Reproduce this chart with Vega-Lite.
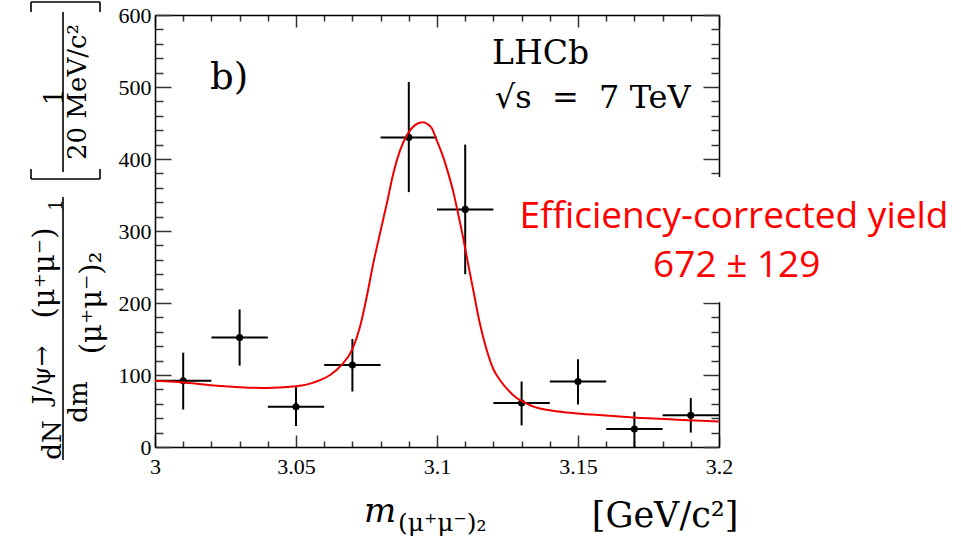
{
  "$schema": "https://vega.github.io/schema/vega-lite/v6.json",
  "width": 564,
  "height": 432,
  "autosize": {"type": "none"},
  "padding": {"left": 155, "top": 15, "right": 242, "bottom": 96},
  "background": "white",
  "config": {"view": {"stroke": null}},
  "datasets": {
    "pts": [
      {"m": 3.01, "mlo": 3.0, "mhi": 3.02, "n": 92, "lo": 52, "hi": 131},
      {"m": 3.03, "mlo": 3.02, "mhi": 3.04, "n": 152, "lo": 113, "hi": 191},
      {"m": 3.05, "mlo": 3.04, "mhi": 3.06, "n": 56, "lo": 29, "hi": 83},
      {"m": 3.07, "mlo": 3.06, "mhi": 3.08, "n": 114, "lo": 77, "hi": 150},
      {"m": 3.09, "mlo": 3.08, "mhi": 3.1, "n": 430, "lo": 354, "hi": 507},
      {"m": 3.11, "mlo": 3.1, "mhi": 3.12, "n": 330, "lo": 240, "hi": 420},
      {"m": 3.13, "mlo": 3.12, "mhi": 3.14, "n": 61, "lo": 30, "hi": 91},
      {"m": 3.15, "mlo": 3.14, "mhi": 3.16, "n": 91, "lo": 59, "hi": 122},
      {"m": 3.17, "mlo": 3.16, "mhi": 3.18, "n": 25, "lo": 0, "hi": 49},
      {"m": 3.19, "mlo": 3.18, "mhi": 3.2, "n": 44, "lo": 20, "hi": 68}
    ],
    "fit": [
      {"m": 3.0, "f": 92}, {"m": 3.005, "f": 91}, {"m": 3.011, "f": 89.4}, {"m": 3.022, "f": 85},
      {"m": 3.03, "f": 83}, {"m": 3.038, "f": 82}, {"m": 3.0467, "f": 83.5}, {"m": 3.052, "f": 85.5},
      {"m": 3.055, "f": 88}, {"m": 3.058, "f": 92}, {"m": 3.0621, "f": 100}, {"m": 3.0662, "f": 114},
      {"m": 3.07, "f": 136}, {"m": 3.0727, "f": 167}, {"m": 3.0751, "f": 209}, {"m": 3.0774, "f": 255},
      {"m": 3.0798, "f": 297}, {"m": 3.0822, "f": 338}, {"m": 3.0845, "f": 380}, {"m": 3.0869, "f": 412},
      {"m": 3.0898, "f": 436}, {"m": 3.0922, "f": 447}, {"m": 3.0949, "f": 451}, {"m": 3.0965, "f": 449},
      {"m": 3.0981, "f": 443}, {"m": 3.1, "f": 425}, {"m": 3.102, "f": 405}, {"m": 3.104, "f": 380},
      {"m": 3.1058, "f": 354}, {"m": 3.1076, "f": 322}, {"m": 3.1093, "f": 290}, {"m": 3.111, "f": 255},
      {"m": 3.113, "f": 215}, {"m": 3.115, "f": 175}, {"m": 3.1176, "f": 135}, {"m": 3.12, "f": 108},
      {"m": 3.1223, "f": 93}, {"m": 3.125, "f": 80}, {"m": 3.1283, "f": 68}, {"m": 3.131, "f": 62},
      {"m": 3.1342, "f": 56}, {"m": 3.14, "f": 51}, {"m": 3.146, "f": 48}, {"m": 3.155, "f": 45},
      {"m": 3.1696, "f": 41}, {"m": 3.185, "f": 38}, {"m": 3.2, "f": 35.5}
    ],
    "box": [{"x1": 3.125, "x2": 3.35, "y1": 201, "y2": 375}],
    "ann": [
      {"x": 3.2053, "y": 304, "t": "Efficiency-corrected yield"},
      {"x": 3.2063, "y": 236, "t": "672 ± 129"}
    ],
    "lblb": [{"x": 3.0195, "y": 497, "t": "b)"}],
    "lhcb": [{"x": 3.1195, "y": 532, "t": "LHCb"}],
    "sqrts": [{"x": 3.1205, "y": 471, "t": "√s\u00a0\u00a0=\u00a0\u00a07\u00a0TeV"}],
    "xtm": [{"x": 3.0798, "y": -104, "t": "m"}],
    "xtsub": [{"x": 3.0862, "y": -116, "t": "(μ⁺μ⁻)₂"}],
    "xtunit": [{"x": 3.1809, "y": -111, "t": "[GeV/c²]"}],
    "ytbig": [{"x": 2.96383, "y": 9.7, "t": "dN"}, {"x": 2.97305, "y": 62.5, "t": "dm"}],
    "ytsup": [{"x": 2.95993, "y": 100, "t": "J/ψ→"}],
    "ytpar": [{"x": 2.96099, "y": 241.7, "t": "(μ⁺μ⁻)"}, {"x": 2.97766, "y": 200, "t": "(μ⁺μ⁻)₂"}],
    "ytsub1": [{"x": 2.96525, "y": 336, "t": "1"}],
    "ytunit": [{"x": 2.96454, "y": 486, "t": "1"}, {"x": 2.9727, "y": 493, "t": "20 MeV/c²"}],
    "rl": [
      {"x": 2.96738, "x2": 2.96738, "y": 604.2, "y2": 381.9},
      {"x": 2.96738, "x2": 2.96738, "y": 347.2, "y2": -18.1},
      {"x": 2.95603, "x2": 2.9805, "y": 372.2, "y2": 372.2},
      {"x": 2.95603, "x2": 2.95603, "y": 372.2, "y2": 386},
      {"x": 2.9805, "x2": 2.9805, "y": 372.2, "y2": 386},
      {"x": 2.95603, "x2": 2.9805, "y": 618, "y2": 618},
      {"x": 2.95603, "x2": 2.95603, "y": 618, "y2": 604},
      {"x": 2.9805, "x2": 2.9805, "y": 618, "y2": 604}
    ]
  },
  "resolve": {"axis": {"x": "independent", "y": "independent"}},
  "layer": [
    {
      "data": {"name": "pts"},
      "mark": {"type": "rule", "color": "black", "strokeWidth": 2},
      "encoding": {
        "x": {"field": "mlo", "type": "quantitative", "scale": {"domain": [3, 3.2], "nice": false, "zero": false},
          "axis": {"orient": "bottom", "title": null, "grid": false, "zindex": 0,
            "values": [3, 3.01, 3.02, 3.03, 3.04, 3.05, 3.06, 3.07, 3.08, 3.09, 3.1, 3.11, 3.12, 3.13, 3.14, 3.15, 3.16, 3.17, 3.18, 3.19, 3.2],
            "tickSize": {"condition": {"test": "abs(datum.value*20-round(datum.value*20))<0.000001", "value": -12}, "value": -6},
            "labelExpr": "abs(datum.value*20-round(datum.value*20))<0.000001 ? toString(round(datum.value*100)/100) : ''",
            "labelFont": "Liberation Serif", "labelFontSize": 22, "labelColor": "black", "labelPadding": 21,
            "labelFlush": false, "labelOverlap": false,
            "domainColor": "black", "domainWidth": 1.5, "tickColor": "#333", "tickWidth": 1.5}},
        "x2": {"field": "mhi"},
        "y": {"field": "n", "type": "quantitative", "scale": {"domain": [0, 600], "nice": false, "zero": false},
          "axis": {"orient": "left", "title": null, "grid": false, "zindex": 0,
            "values": [0, 20, 40, 60, 80, 100, 120, 140, 160, 180, 200, 220, 240, 260, 280, 300, 320, 340, 360, 380, 400, 420, 440, 460, 480, 500, 520, 540, 560, 580, 600],
            "tickSize": {"condition": {"test": "datum.value % 100 == 0", "value": -16}, "value": -8},
            "labelExpr": "datum.value % 100 == 0 ? toString(datum.value) : ''",
            "labelFont": "Liberation Serif", "labelFontSize": 22, "labelColor": "black", "labelPadding": 20,
            "labelFlush": false, "labelOverlap": false,
            "domainColor": "black", "domainWidth": 1.5, "tickColor": "#333", "tickWidth": 1.5}}
      }
    },
    {
      "data": {"name": "pts"},
      "mark": {"type": "rule", "color": "black", "strokeWidth": 2},
      "encoding": {
        "x": {"field": "m", "type": "quantitative", "scale": {"domain": [3, 3.2], "nice": false, "zero": false},
          "axis": {"orient": "top", "title": null, "grid": false, "zindex": 0, "labels": false,
            "values": [3, 3.01, 3.02, 3.03, 3.04, 3.05, 3.06, 3.07, 3.08, 3.09, 3.1, 3.11, 3.12, 3.13, 3.14, 3.15, 3.16, 3.17, 3.18, 3.19, 3.2],
            "tickSize": {"condition": {"test": "abs(datum.value*20-round(datum.value*20))<0.000001", "value": -12}, "value": -6},
            "domainColor": "black", "domainWidth": 1.5, "tickColor": "#333", "tickWidth": 1.5}},
        "y": {"field": "lo", "type": "quantitative", "scale": {"domain": [0, 600], "nice": false, "zero": false},
          "axis": {"orient": "right", "title": null, "grid": false, "zindex": 0, "labels": false,
            "values": [0, 20, 40, 60, 80, 100, 120, 140, 160, 180, 200, 220, 240, 260, 280, 300, 320, 340, 360, 380, 400, 420, 440, 460, 480, 500, 520, 540, 560, 580, 600],
            "tickSize": {"condition": {"test": "datum.value % 100 == 0", "value": -16}, "value": -8},
            "domainColor": "black", "domainWidth": 1.5, "tickColor": "#333", "tickWidth": 1.5}},
        "y2": {"field": "hi"}
      }
    },
    {
      "data": {"name": "pts"},
      "mark": {"type": "circle", "color": "black", "opacity": 1, "size": 50},
      "encoding": {
        "x": {"field": "m", "type": "quantitative", "scale": {"domain": [3, 3.2], "nice": false, "zero": false}, "axis": null},
        "y": {"field": "n", "type": "quantitative", "scale": {"domain": [0, 600], "nice": false, "zero": false}, "axis": null}
      }
    },
    {
      "data": {"name": "fit"},
      "mark": {"type": "line", "color": "#ee0000", "strokeWidth": 2, "interpolate": "monotone"},
      "encoding": {
        "x": {"field": "m", "type": "quantitative", "scale": {"domain": [3, 3.2], "nice": false, "zero": false}, "axis": null},
        "y": {"field": "f", "type": "quantitative", "scale": {"domain": [0, 600], "nice": false, "zero": false}, "axis": null}
      }
    },
    {
      "data": {"name": "box"},
      "mark": {"type": "rect", "fill": "white", "stroke": null},
      "encoding": {
        "x": {"field": "x1", "type": "quantitative", "scale": {"domain": [3, 3.2], "nice": false, "zero": false}, "axis": null},
        "x2": {"field": "x2"},
        "y": {"field": "y1", "type": "quantitative", "scale": {"domain": [0, 600], "nice": false, "zero": false}, "axis": null},
        "y2": {"field": "y2"}
      }
    },
    {
      "data": {"name": "ann"},
      "mark": {"type": "text", "font": "Open Sans", "fontSize": 37, "color": "#ff0000", "align": "center", "baseline": "alphabetic"},
      "encoding": {
        "x": {"field": "x", "type": "quantitative", "scale": {"domain": [3, 3.2], "nice": false, "zero": false}, "axis": null},
        "y": {"field": "y", "type": "quantitative", "scale": {"domain": [0, 600], "nice": false, "zero": false}, "axis": null},
        "text": {"field": "t"}
      }
    },
    {
      "data": {"name": "lblb"},
      "mark": {"type": "text", "font": "DejaVu Serif", "fontSize": 37, "color": "black", "align": "left", "baseline": "alphabetic"},
      "encoding": {
        "x": {"field": "x", "type": "quantitative", "scale": {"domain": [3, 3.2], "nice": false, "zero": false}, "axis": null},
        "y": {"field": "y", "type": "quantitative", "scale": {"domain": [0, 600], "nice": false, "zero": false}, "axis": null},
        "text": {"field": "t"}
      }
    },
    {
      "data": {"name": "lhcb"},
      "mark": {"type": "text", "font": "DejaVu Serif", "fontSize": 33, "color": "black", "align": "left", "baseline": "alphabetic"},
      "encoding": {
        "x": {"field": "x", "type": "quantitative", "scale": {"domain": [3, 3.2], "nice": false, "zero": false}, "axis": null},
        "y": {"field": "y", "type": "quantitative", "scale": {"domain": [0, 600], "nice": false, "zero": false}, "axis": null},
        "text": {"field": "t"}
      }
    },
    {
      "data": {"name": "sqrts"},
      "mark": {"type": "text", "font": "DejaVu Serif", "fontSize": 32, "color": "black", "align": "left", "baseline": "alphabetic"},
      "encoding": {
        "x": {"field": "x", "type": "quantitative", "scale": {"domain": [3, 3.2], "nice": false, "zero": false}, "axis": null},
        "y": {"field": "y", "type": "quantitative", "scale": {"domain": [0, 600], "nice": false, "zero": false}, "axis": null},
        "text": {"field": "t"}
      }
    },
    {
      "data": {"name": "xtm"},
      "mark": {"type": "text", "font": "DejaVu Serif", "fontStyle": "italic", "fontSize": 34, "color": "black", "align": "center", "baseline": "alphabetic"},
      "encoding": {
        "x": {"field": "x", "type": "quantitative", "scale": {"domain": [3, 3.2], "nice": false, "zero": false}, "axis": null},
        "y": {"field": "y", "type": "quantitative", "scale": {"domain": [0, 600], "nice": false, "zero": false}, "axis": null},
        "text": {"field": "t"}
      }
    },
    {
      "data": {"name": "xtsub"},
      "mark": {"type": "text", "font": "DejaVu Serif", "fontSize": 25, "color": "black", "align": "left", "baseline": "alphabetic"},
      "encoding": {
        "x": {"field": "x", "type": "quantitative", "scale": {"domain": [3, 3.2], "nice": false, "zero": false}, "axis": null},
        "y": {"field": "y", "type": "quantitative", "scale": {"domain": [0, 600], "nice": false, "zero": false}, "axis": null},
        "text": {"field": "t"}
      }
    },
    {
      "data": {"name": "xtunit"},
      "mark": {"type": "text", "font": "DejaVu Serif", "fontSize": 35, "color": "black", "align": "center", "baseline": "alphabetic"},
      "encoding": {
        "x": {"field": "x", "type": "quantitative", "scale": {"domain": [3, 3.2], "nice": false, "zero": false}, "axis": null},
        "y": {"field": "y", "type": "quantitative", "scale": {"domain": [0, 600], "nice": false, "zero": false}, "axis": null},
        "text": {"field": "t"}
      }
    },
    {
      "data": {"name": "ytbig"},
      "mark": {"type": "text", "font": "DejaVu Serif", "fontSize": 26, "color": "black", "align": "center", "baseline": "middle", "angle": 270},
      "encoding": {
        "x": {"field": "x", "type": "quantitative", "scale": {"domain": [3, 3.2], "nice": false, "zero": false}, "axis": null},
        "y": {"field": "y", "type": "quantitative", "scale": {"domain": [0, 600], "nice": false, "zero": false}, "axis": null},
        "text": {"field": "t"}
      }
    },
    {
      "data": {"name": "ytsup"},
      "mark": {"type": "text", "font": "DejaVu Serif", "fontSize": 25, "color": "black", "align": "center", "baseline": "middle", "angle": 270},
      "encoding": {
        "x": {"field": "x", "type": "quantitative", "scale": {"domain": [3, 3.2], "nice": false, "zero": false}, "axis": null},
        "y": {"field": "y", "type": "quantitative", "scale": {"domain": [0, 600], "nice": false, "zero": false}, "axis": null},
        "text": {"field": "t"}
      }
    },
    {
      "data": {"name": "ytpar"},
      "mark": {"type": "text", "font": "DejaVu Serif", "fontSize": 29, "color": "black", "align": "center", "baseline": "middle", "angle": 270},
      "encoding": {
        "x": {"field": "x", "type": "quantitative", "scale": {"domain": [3, 3.2], "nice": false, "zero": false}, "axis": null},
        "y": {"field": "y", "type": "quantitative", "scale": {"domain": [0, 600], "nice": false, "zero": false}, "axis": null},
        "text": {"field": "t"}
      }
    },
    {
      "data": {"name": "ytsub1"},
      "mark": {"type": "text", "font": "DejaVu Serif", "fontSize": 18, "color": "black", "align": "center", "baseline": "middle", "angle": 270},
      "encoding": {
        "x": {"field": "x", "type": "quantitative", "scale": {"domain": [3, 3.2], "nice": false, "zero": false}, "axis": null},
        "y": {"field": "y", "type": "quantitative", "scale": {"domain": [0, 600], "nice": false, "zero": false}, "axis": null},
        "text": {"field": "t"}
      }
    },
    {
      "data": {"name": "ytunit"},
      "mark": {"type": "text", "font": "DejaVu Serif", "fontSize": 26, "color": "black", "align": "center", "baseline": "middle", "angle": 270},
      "encoding": {
        "x": {"field": "x", "type": "quantitative", "scale": {"domain": [3, 3.2], "nice": false, "zero": false}, "axis": null},
        "y": {"field": "y", "type": "quantitative", "scale": {"domain": [0, 600], "nice": false, "zero": false}, "axis": null},
        "text": {"field": "t"}
      }
    },
    {
      "data": {"name": "rl"},
      "mark": {"type": "rule", "color": "black", "strokeWidth": 1.6},
      "encoding": {
        "x": {"field": "x", "type": "quantitative", "scale": {"domain": [3, 3.2], "nice": false, "zero": false}, "axis": null},
        "x2": {"field": "x2"},
        "y": {"field": "y", "type": "quantitative", "scale": {"domain": [0, 600], "nice": false, "zero": false}, "axis": null},
        "y2": {"field": "y2"}
      }
    }
  ]
}
